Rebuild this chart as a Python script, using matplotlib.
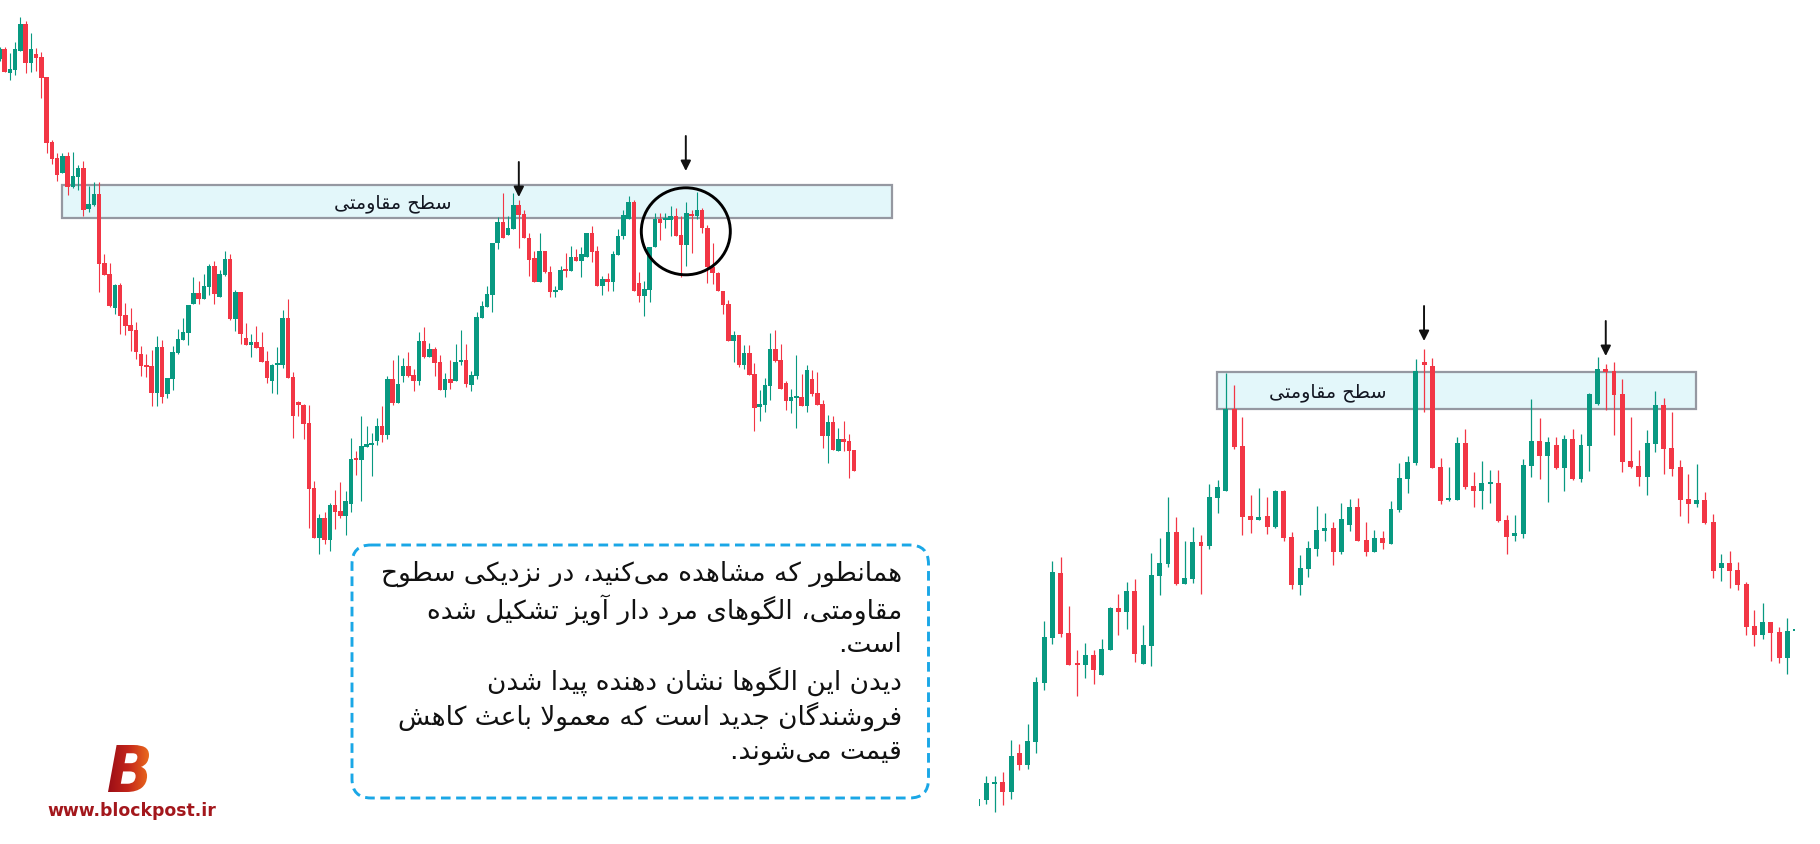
import numpy as np
import matplotlib
matplotlib.use("Agg")
import matplotlib.pyplot as plt
from matplotlib.patches import Rectangle, Ellipse, FancyBboxPatch, PathPatch
from matplotlib.textpath import TextPath
from matplotlib.font_manager import FontProperties
from matplotlib.colors import LinearSegmentedColormap
from matplotlib.transforms import Affine2D

# ---------------- data (prices in arbitrary chart units) ----------------
left_open = [940,950,926,929,948,975,936,945,942,922, 857,841,826,843,812,822,831,790,794,805,
             736,725,691,714,684,674,669,645,634,633, 606,652,605,620,646,659,666,695,706,700,
             712,733,702,724,740,680,707,661,654,657, 652,638,618,634,634,681,622,597,594,576,
             511,461,481,459,494,488,483,495,540,539, 552,554,558,573,564,620,596,623,633,624,
             618,658,642,650,637,609,620,618,637,639, 614,623,681,692,704,756,777,764,770,794,
             785,761,741,717,748,727,707,709,729,728, 742,738,742,766,748,713,720,717,744,763,
             780,797,716,703,709,752,780,779,779,783, 764,754,785,783,789,771,732,726,708,695,
             658,664,634,646,625,592,594,613,650,639, 616,598,601,602,593,620,606,595,563,577,
             548,560,558,549]
left_high = [952,952,946,957,982,978,966,951,947,922, 859,846,846,847,847,834,838,813,817,817,
             745,736,715,716,696,691,677,653,645,649, 663,659,621,653,670,681,694,722,718,725,
             735,738,729,748,745,709,707,676,665,673, 667,648,635,652,689,700,627,598,595,594,
             518,485,487,496,509,517,508,561,548,583, 573,566,581,593,623,639,644,641,647,630,
             667,672,656,652,644,626,639,655,669,655, 628,687,698,713,756,782,806,783,806,799,
             789,766,748,766,748,733,713,733,746,753, 750,752,766,773,753,723,726,748,770,789,
             803,799,727,718,752,786,786,786,793,791, 783,797,789,807,791,774,756,727,708,699,
             668,664,654,654,636,609,621,666,669,655, 618,610,644,625,634,629,627,599,584,583,
             571,578,565,549]
left_low = [938,927,919,924,948,926,927,928,901,846, 835,818,826,804,811,809,783,787,793,707,
            724,692,685,665,664,648,640,623,622,593, 593,596,601,609,645,659,654,695,695,700,
            704,695,702,723,679,668,655,654,642,651, 637,616,606,605,631,621,561,583,560,471,
            461,445,455,448,470,481,464,487,524,498, 552,523,554,557,560,594,596,617,622,608,
            614,641,642,623,609,602,610,618,634,612, 608,620,681,692,687,750,761,764,770,751,
            761,723,717,717,726,702,702,709,722,728, 738,722,742,737,713,704,708,708,744,760,
            780,708,697,683,697,752,759,771,763,763, 722,733,746,780,766,716,715,708,685,658,
            637,632,630,624,568,578,587,599,637,610, 589,586,571,593,587,603,594,551,536,549,
            548,548,521,528]
left_close = [950,927,930,950,975,936,950,941,921,856, 840,824,843,812,823,831,789,795,805,735,
              724,693,714,683,673,668,647,633,632,606, 652,602,621,647,660,667,694,706,700,713,
              733,705,725,740,680,707,665,654,657,651, 637,621,634,635,681,621,583,594,575,510,
              461,481,459,494,487,483,498,540,539,553, 555,556,573,564,620,596,615,633,623,618,
              658,642,650,636,609,620,616,637,639,615, 624,682,693,705,756,777,761,771,794,784,
              761,739,717,748,727,707,709,729,728,742, 738,745,766,747,713,720,717,745,763,784,
              797,708,703,710,752,780,776,780,783,763, 754,786,783,789,771,732,726,708,694,658,
              664,634,646,624,591,595,614,650,638,610, 598,602,602,593,629,605,594,563,577,549,
              560,557,548,528]

right_open = [193,199,215,217,207,246,234,257,316,361, 426,366,335,334,344,324,349,391,387,408,
              335,353,423,435,467,415,420,457,453,501, 508,590,553,483,479,483,472,508,462,414,
              430,450,468,471,447,474,492,459,447,461, 455,489,520,536,637,633,532,499,499,556,
              513,508,515,516,479,463,465,533,558,543, 554,531,560,520,553,595,630,628,605,538,
              533,522,555,594,551,532,500,495,499,477, 431,436,429,415,373,364,377,367,341,368]
right_high = [200,223,223,227,259,255,275,322,378,438, 442,393,349,356,349,360,392,405,417,420,
              374,446,461,502,482,458,472,464,515,519, 626,614,582,504,511,502,509,509,467,444,
              458,493,486,477,496,500,501,477,469,468, 498,536,543,640,650,641,541,532,562,570,
              527,538,529,529,484,484,540,600,581,562, 562,564,570,565,606,642,635,637,620,582,
              549,569,608,601,587,539,525,535,507,485, 445,448,437,417,389,396,377,372,381,370]
right_low = [193,195,187,194,200,229,230,246,309,355, 362,334,303,321,315,324,349,364,370,337,
             335,333,404,432,414,415,416,405,450,486, 508,550,464,466,479,465,471,458,410,404,
             422,443,458,434,445,468,458,443,447,450, 455,487,506,534,587,531,495,498,499,510,
             492,490,496,477,445,458,461,522,520,497, 530,508,519,517,528,594,589,564,527,531,
             513,504,547,525,523,483,476,492,475,421, 418,411,409,364,353,360,338,336,325,368]
right_close = [200,216,217,207,243,234,258,317,362,427, 365,334,334,344,329,350,391,387,408,345,
               354,424,436,467,415,421,457,453,502,512, 590,552,482,479,482,472,508,461,414,431,
               451,469,471,447,480,492,458,447,461,456, 490,521,537,628,634,531,498,500,556,512,
               508,516,516,478,462,466,534,558,543,557, 531,560,520,554,605,630,627,604,537,532,
               522,556,594,550,530,499,495,499,476,428, 436,428,414,372,364,377,366,341,368,370]

# resistance zones (price bottom / top) and annotated candles
left_zone = (781, 814)
right_zone = (590, 627)
left_arrow_candles = [99, 131]
right_arrow_candles = [54, 76]
zone_label = "سطح مقاومتی"
note_lines = [
    "همانطور که مشاهده می\u200cکنید، در نزدیکی سطوح",
    "مقاومتی، الگوهای مرد دار آویز تشکیل شده",
    "است.",
    "دیدن این الگوها نشان دهنده پیدا شدن",
    "فروشندگان جدید است که معمولا باعث کاهش",
    "قیمت می\u200cشوند.",
]
site_text = "www.blockpost.ir"
logo_letter = "B"

# ---------------- Arabic-script shaping (matplotlib has no RTL layout) ----------------
AR_FORMS = {
    '\u0622': ('\uFE81', '\uFE82', None, None),
    '\u0627': ('\uFE8D', '\uFE8E', None, None),
    '\u0628': ('\uFE8F', '\uFE90', '\uFE91', '\uFE92'),
    '\u067E': ('\uFB56', '\uFB57', '\uFB58', '\uFB59'),
    '\u062A': ('\uFE95', '\uFE96', '\uFE97', '\uFE98'),
    '\u062B': ('\uFE99', '\uFE9A', '\uFE9B', '\uFE9C'),
    '\u062C': ('\uFE9D', '\uFE9E', '\uFE9F', '\uFEA0'),
    '\u062D': ('\uFEA1', '\uFEA2', '\uFEA3', '\uFEA4'),
    '\u062F': ('\uFEA9', '\uFEAA', None, None),
    '\u0631': ('\uFEAD', '\uFEAE', None, None),
    '\u0632': ('\uFEAF', '\uFEB0', None, None),
    '\u0633': ('\uFEB1', '\uFEB2', '\uFEB3', '\uFEB4'),
    '\u0634': ('\uFEB5', '\uFEB6', '\uFEB7', '\uFEB8'),
    '\u0637': ('\uFEC1', '\uFEC2', '\uFEC3', '\uFEC4'),
    '\u0639': ('\uFEC9', '\uFECA', '\uFECB', '\uFECC'),
    '\u0641': ('\uFED1', '\uFED2', '\uFED3', '\uFED4'),
    '\u0642': ('\uFED5', '\uFED6', '\uFED7', '\uFED8'),
    '\u06A9': ('\uFB8E', '\uFB8F', '\uFB90', '\uFB91'),
    '\u06AF': ('\uFB92', '\uFB93', '\uFB94', '\uFB95'),
    '\u0644': ('\uFEDD', '\uFEDE', '\uFEDF', '\uFEE0'),
    '\u0645': ('\uFEE1', '\uFEE2', '\uFEE3', '\uFEE4'),
    '\u0646': ('\uFEE5', '\uFEE6', '\uFEE7', '\uFEE8'),
    '\u0647': ('\uFEE9', '\uFEEA', '\uFEEB', '\uFEEC'),
    '\u0648': ('\uFEED', '\uFEEE', None, None),
    '\u06CC': ('\uFBFC', '\uFBFD', '\uFBFE', '\uFBFF'),
}
LAM_ALEF = {'\u0627': ('\uFEFB', '\uFEFC'), '\u0622': ('\uFEF5', '\uFEF6')}


def shape_rtl(s):
    def dual(c):
        return c in AR_FORMS and AR_FORMS[c][2] is not None
    out = []
    i, n = 0, len(s)
    while i < n:
        c = s[i]
        if c not in AR_FORMS:
            if c != '\u200c':
                out.append(c)
            i += 1
            continue
        prev_j = i > 0 and dual(s[i - 1])
        if c == '\u0644' and i + 1 < n and s[i + 1] in LAM_ALEF:
            out.append(LAM_ALEF[s[i + 1]][1 if prev_j else 0])
            i += 2
            continue
        next_j = dual(c) and i + 1 < n and s[i + 1] in AR_FORMS
        iso, fin, ini, med = AR_FORMS[c]
        out.append(med if (prev_j and next_j) else fin if prev_j else ini if next_j else iso)
        i += 1
    return ''.join(reversed(out))


# ---------------- figure ----------------
W, H = 1820, 845
fig = plt.figure(figsize=(W / 100, H / 100), dpi=100)
fig.patch.set_facecolor('white')

UP, DOWN = '#089981', '#f23645'
ZONE_FILL, ZONE_EDGE = '#e3f7fa', '#9598a1'
AR_FONT = ['DejaVu Sans']


def draw_candles(ax, o, h, l, c, width, wick_lw):
    o, h, l, c = map(np.asarray, (o, h, l, c))
    x = np.arange(len(o))
    up = c >= o
    cols = np.where(up, UP, DOWN)
    ax.vlines(x, l, h, colors=cols, lw=wick_lw, zorder=3)
    bottom = np.minimum(o, c)
    height = np.maximum(np.abs(c - o), 1.6)
    ax.bar(x, height, bottom=bottom, width=width, color=cols, linewidth=0, zorder=4)


def px_axes(x0, x1, x_first, step):
    ax = fig.add_axes([x0 / W, 0, (x1 - x0) / W, 1])
    ax.set_xlim((x0 - x_first) / step, (x1 - x_first) / step)
    ax.set_ylim(1000 - H, 1000)
    ax.axis('off')
    return ax


# left chart: candle i centred at -0.5 + i*5.243 px
L_STEP, L_FIRST = 5.243, -0.5
axL = px_axes(0, 855.5, L_FIRST, L_STEP)
draw_candles(axL, left_open, left_high, left_low, left_close, 0.86, 0.8)

# right chart: candle i centred at 978 + i*8.26 px
R_STEP, R_FIRST = 8.26, 978.0
axR = px_axes(979, 1794.5, R_FIRST, R_STEP)
draw_candles(axR, right_open, right_high, right_low, right_close, 0.6, 0.9)


def zone(ax, x_from, x_to, lo_hi, label_x):
    lo, hi = lo_hi
    ax.add_patch(Rectangle((x_from, lo), x_to - x_from, hi - lo, facecolor=ZONE_FILL,
                           edgecolor=ZONE_EDGE, lw=1.6, zorder=1, clip_on=False))
    ax.text(label_x, (lo + hi) / 2 - 1, shape_rtl(zone_label), family=AR_FONT, fontsize=13.8,
            ha='center', va='center', color='#131722', zorder=6, clip_on=False)


def arrow(ax, xi, y_tip, length=35):
    ax.annotate('', xy=(xi, y_tip), xytext=(xi, y_tip + length),
                arrowprops=dict(arrowstyle='-|>', color='#111111', lw=1.4,
                                mutation_scale=15, shrinkA=0, shrinkB=0),
                annotation_clip=False, zorder=7)


# left zone spans beyond the last candle
zone(axL, (61.7 - L_FIRST) / L_STEP, (892 - L_FIRST) / L_STEP, left_zone, (393 - L_FIRST) / L_STEP)
zone(axR, (1216.7 - R_FIRST) / R_STEP, (1695.7 - R_FIRST) / R_STEP, right_zone, (1328 - R_FIRST) / R_STEP)

arrow(axL, left_arrow_candles[0] + 0.05, left_high[left_arrow_candles[0]] + 3)
arrow(axL, left_arrow_candles[1] - 0.1, left_high[left_arrow_candles[1]] + 31)
arrow(axR, right_arrow_candles[0], right_high[right_arrow_candles[0]] + 8)
arrow(axR, right_arrow_candles[1], right_high[right_arrow_candles[1]] + 8)

# circle around the second top (left chart)
ci = left_arrow_candles[1] - 0.1
axL.add_patch(Ellipse((ci, 767.7), 2 * 44.5 / L_STEP, 87, fill=False, edgecolor='black',
                      lw=2.1, zorder=8, clip_on=False))

# ---------------- overlay (pixel coordinates) ----------------
ov = fig.add_axes([0, 0, 1, 1])
ov.set_xlim(0, W)
ov.set_ylim(H, 0)
ov.axis('off')
ov.patch.set_alpha(0)

bx0, by0, bx1, by1 = 352, 546, 928.5, 799
ov.add_patch(FancyBboxPatch((bx0, by0), bx1 - bx0, by1 - by0,
                            boxstyle='round,pad=0,rounding_size=19',
                            facecolor='white', edgecolor='#1aa7e6', lw=2.1,
                            linestyle=(0, (3.3, 1.9)), zorder=2))
line_y0, line_dy = 574, 35.6
for k, ln in enumerate(note_lines):
    ov.text(902, line_y0 + k * line_dy, shape_rtl(ln), family=AR_FONT, fontsize=19,
            ha='right', va='center', color='#111111', zorder=3)

# logo: gradient "B"
fp = FontProperties(family='DejaVu Sans', weight='bold', style='italic')
tp = TextPath((0, 0), logo_letter, size=1, prop=fp)
ext = tp.get_extents()
lx0, ly0, lx1, ly1 = 108, 746, 149, 793
tr = (Affine2D().translate(-ext.x0, -ext.y0)
      .scale((lx1 - lx0) / ext.width, -(ly1 - ly0) / ext.height)
      .translate(lx0, ly1))
bpath = tr.transform_path(tp)
bpatch = PathPatch(bpath, facecolor='none', edgecolor='none', transform=ov.transData)
ov.add_patch(bpatch)
cmap = LinearSegmentedColormap.from_list('logo', ['#9a0d16', '#c4261a', '#ea6a1d'])
grad = np.linspace(0, 1, 256)[None, :]
im = ov.imshow(grad, cmap=cmap, extent=[lx0, lx1, ly1, ly0], aspect='auto', zorder=4)
im.set_clip_path(bpatch)
ov.set_xlim(0, W)
ov.set_ylim(H, 0)
ov.text(131.5, 811, site_text, fontsize=12.4, fontweight='bold', color='#a3171c',
        ha='center', va='center', family='DejaVu Sans', zorder=4)

fig.savefig('out.png', dpi=100, facecolor='white')
